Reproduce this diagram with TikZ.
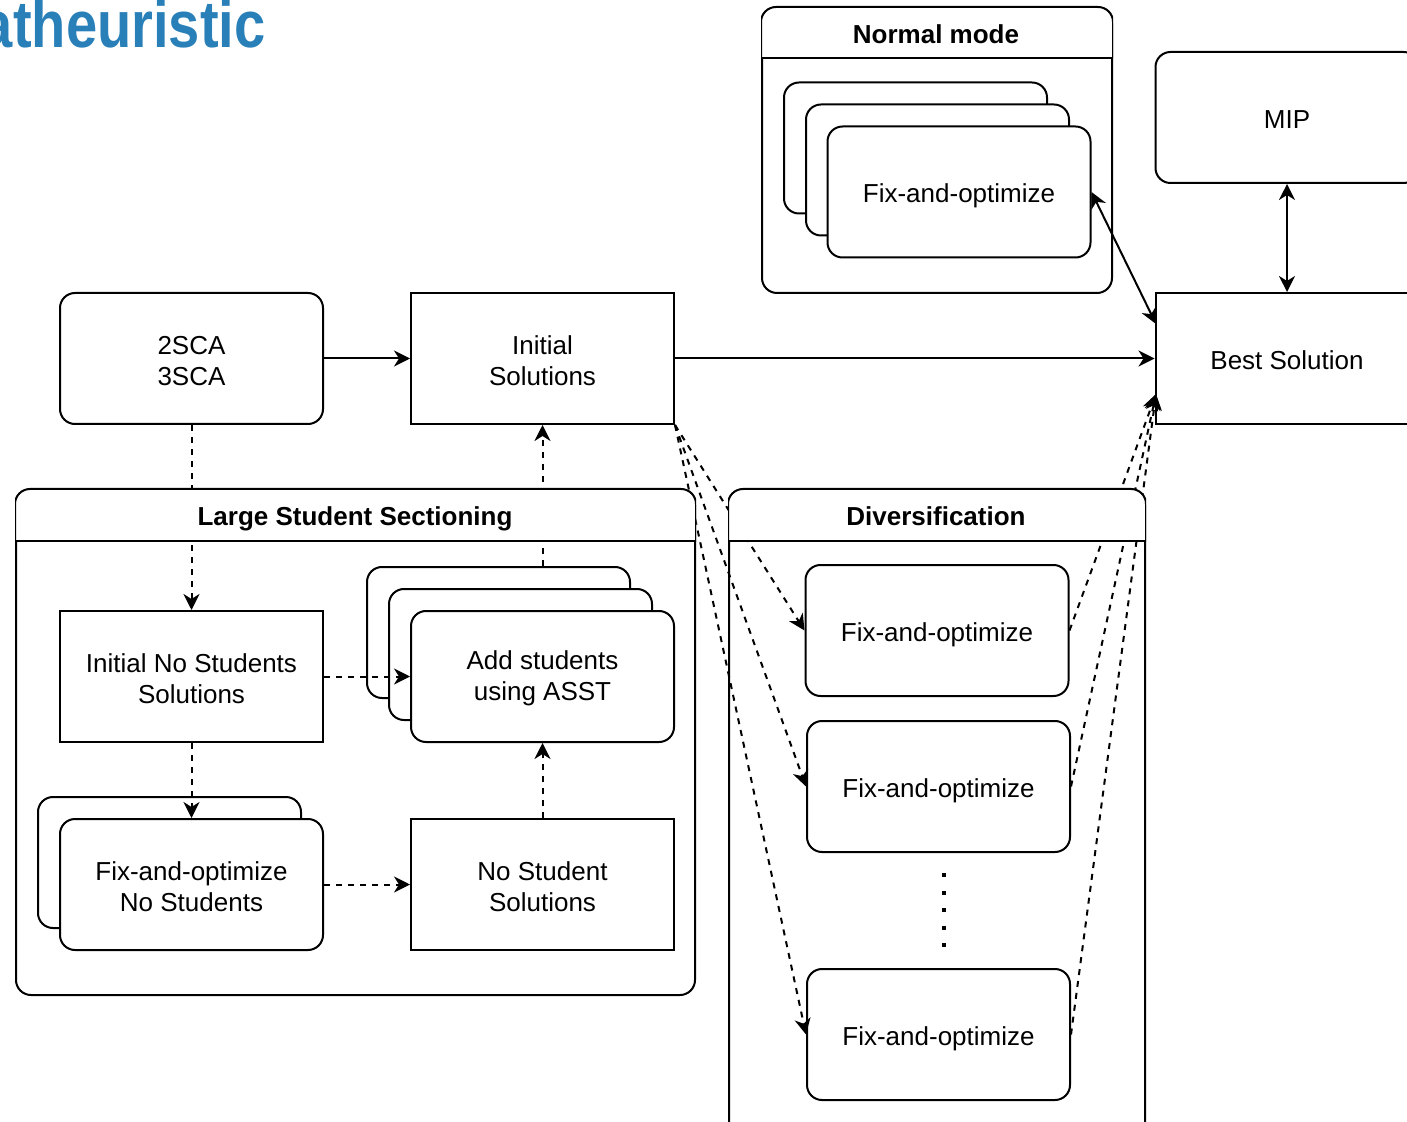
\documentclass[tikz,border=0pt]{standalone}
\usepackage{fontspec}
\setmainfont{Liberation Sans}
\usetikzlibrary{arrows.meta, calc}
\definecolor{titleblue}{RGB}{41,128,185}

\begin{document}
\begin{tikzpicture}[x=0.5pt, y=-0.5pt,
  box/.style={draw, line width=1pt, fill=white, minimum width=131.5pt, minimum height=65.5pt,
    inner sep=0pt, align=center, font=\fontsize{13}{15.5}\selectfont},
  rbox/.style={box, rounded corners=7.5pt},
  one/.style={execute at begin node={\rule[-2.7pt]{0pt}{16.3pt}}},
  two/.style={execute at begin node={\rule{0pt}{27pt}}},
  group/.style={draw, line width=1pt, rounded corners=7.5pt, inner sep=0pt},
  grouptitle/.style={anchor=base, inner sep=0pt, font=\bfseries\fontsize{13}{15.5}\selectfont},
  flow/.style={line width=1pt, -{Stealth[length=8pt,width=8pt,inset=2.5pt]}},
  twoway/.style={line width=1pt, {Stealth[length=8pt,width=8pt,inset=2.5pt]}-{Stealth[length=8pt,width=8pt,inset=2.5pt]}},
  dflow/.style={flow, dash pattern=on 3pt off 3pt}]
\useasboundingbox (0,0) rectangle (1407,1122);
\clip (0,0) rectangle (1407,1122);

% title (cut at the left edge)
\node[anchor=base east, inner sep=0pt, text=titleblue, font=\bfseries\fontsize{33}{33}\selectfont]
  (title) at (266,48) {\scalebox{0.85}[1]{atheuristic}};

% groups
\node[group, minimum width=175pt, minimum height=142.5pt] (nm) at (937,150.5) {};
\node[group, minimum width=339.5pt, minimum height=252.5pt] (lss) at (355.5,742.5) {};
\node[group, minimum width=208pt, minimum height=325pt] (div) at (937,815) {};

% normal mode
\node[rbox] (nm1) at (915.5,148) {};
\node[rbox] (nm2) at (937.5,170) {};
\node[rbox, one] (nm3) at (959,192) {Fix-and-optimize};

% right column
\node[rbox, one] (mip) at (1287,117.5) {MIP};
\node[box, one] (best) at (1287,358.5) {Best Solution};

% top row
\node[rbox, two] (sca) at (191.5,358.5) {2SCA\\3SCA};
\node[box, two] (init) at (542.5,358.5) {Initial\\Solutions};

% large student sectioning
\node[box, two] (ins) at (191.5,676.5) {Initial No Students\\Solutions};
\node[rbox] (add1) at (498.5,632.5) {};
\node[rbox] (add2) at (520.5,654.5) {};
\node[rbox, two] (add3) at (542.5,676.5) {Add students\\using ASST};
\node[rbox] (fon1) at (169.5,862.5) {};
\node[rbox, two] (fon2) at (191.5,884.5) {Fix-and-optimize\\No Students};
\node[box, two] (nss) at (542.5,884.5) {No Student\\Solutions};

% diversification
\node[rbox, one] (div1) at (937,630.5) {Fix-and-optimize};
\node[rbox, one] (div2) at (938.5,786.5) {Fix-and-optimize};
\node[rbox, one] (div3) at (938.5,1034.5) {Fix-and-optimize};
\coordinate (dotstop) at (944,873);
\coordinate (dotsbot) at (944,950);
\draw[line width=2pt, dash pattern=on 2pt off 6.75pt] (dotstop) -- (dotsbot);

% connectors
\coordinate (bnm) at (1156,324);
\coordinate (bdiv) at (1156,394);
\draw[flow] (sca) -- (init);
\draw[flow] (init) -- (best);
\draw[twoway] (nm3.east) -- (bnm);
\draw[twoway] (mip) -- (best);

\draw[dflow] (sca) -- (ins);
\draw[dflow] (ins) -- (add3);
\draw[dflow] (ins) -- (fon2);
\draw[dflow] (fon2) -- (nss);
\draw[dflow] (nss) -- (add3);
\draw[dflow] (add1.north -| add3.north) -- (init.south);

\draw[dflow] (init.south east) -- (div1.west);
\draw[dflow] (init.south east) -- (div2.west);
\draw[dflow] (init.south east) -- (div3.west);
\draw[dflow] (div1.east) -- (bdiv);
\draw[dflow] (div2.east) -- (bdiv);
\draw[dflow] (div3.east) -- (bdiv);

% group headers on top of the connectors
\begin{scope}
  \clip (nm.west |- 0,0) rectangle (nm.east |- 0,58);
  \draw[line width=1pt, fill=white, rounded corners=7.5pt] (nm.north west) rectangle (nm.south east);
\end{scope}
\draw[line width=1pt] (nm.west |- 0,58) -- (nm.east |- 0,58);
\node[grouptitle] (nmtitle) at (936,43.5) {Normal mode};

\begin{scope}
  \clip (lss.west |- 0,480) rectangle (lss.east |- 0,541);
  \draw[line width=1pt, fill=white, rounded corners=7.5pt] (lss.north west) rectangle (lss.south east);
\end{scope}
\draw[line width=1pt] (lss.west |- 0,541) -- (lss.east |- 0,541);
\node[grouptitle] (lsstitle) at (355,525.5) {Large Student Sectioning};

\begin{scope}
  \clip (div.west |- 0,480) rectangle (div.east |- 0,541);
  \draw[line width=1pt, fill=white, rounded corners=7.5pt] (div.north west) rectangle (div.south east);
\end{scope}
\draw[line width=1pt] (div.west |- 0,541) -- (div.east |- 0,541);
\node[grouptitle] (divtitle) at (936,525.5) {Diversification};
\end{tikzpicture}
\end{document}
